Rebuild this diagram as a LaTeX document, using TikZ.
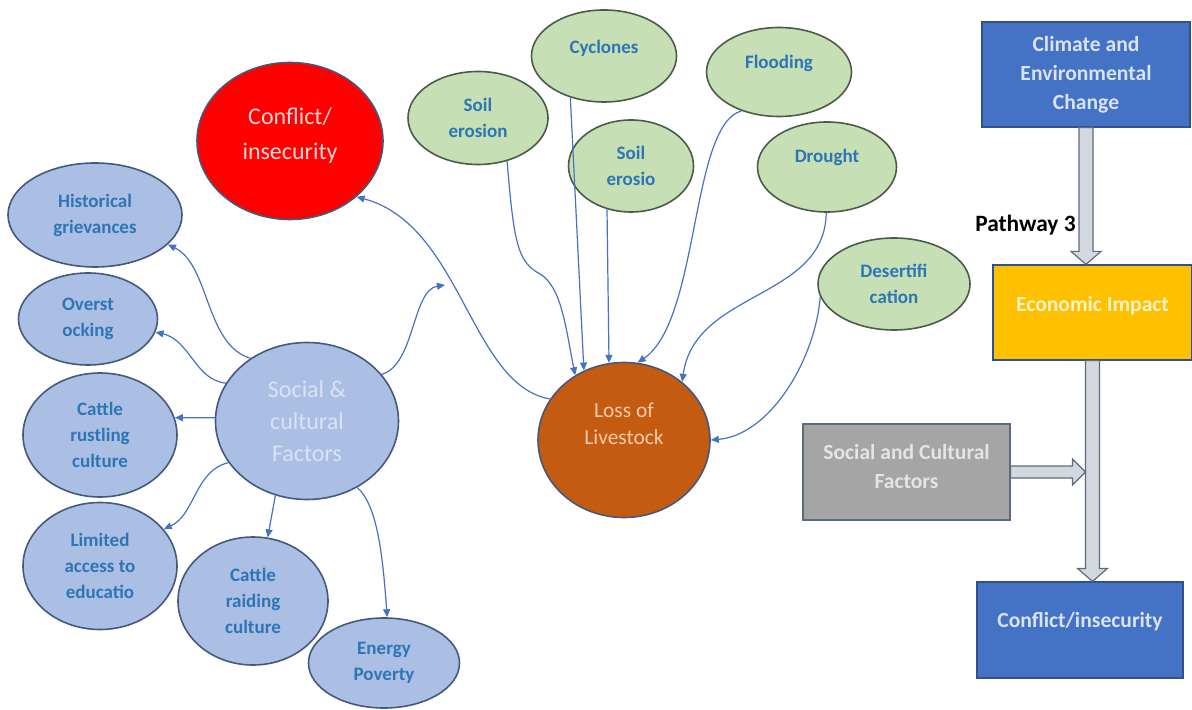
\documentclass[tikz,border=0pt]{standalone}
\usepackage{fontspec}
\setmainfont{Carlito}
\usetikzlibrary{calc, arrows.meta, shapes.geometric}

\definecolor{ellblue}{HTML}{AABFE3}
\definecolor{ellline}{HTML}{44597C}
\definecolor{txtblue}{HTML}{2E75B6}
\definecolor{ellgreen}{HTML}{C6DFB4}
\definecolor{greenline}{HTML}{4B5B4B}
\definecolor{linkblue}{HTML}{4472C4}
\definecolor{lossorange}{HTML}{C55A11}
\definecolor{boxblue}{HTML}{4472C4}
\definecolor{boxline}{HTML}{2F528F}
\definecolor{econyellow}{HTML}{FFC000}
\definecolor{boxgray}{HTML}{A5A5A5}
\definecolor{arrowfill}{HTML}{D3D7DE}
\definecolor{arrowline}{HTML}{5E6A7D}
\definecolor{lighttxt}{HTML}{DAE3F3}
\definecolor{conftxt}{HTML}{FFD6D6}
\definecolor{losstxt}{HTML}{F8CBAD}
\definecolor{econtxt}{HTML}{FFF2CC}
\definecolor{graytxt}{HTML}{E4E4E4}

\begin{document}
\begin{tikzpicture}[x=0.5pt, y=-0.5pt,
    ell/.style={ellipse, inner sep=0pt, align=center, line width=0.8pt},
    socialell/.style={ell, fill=ellblue, draw=ellline, text=txtblue, font=\bfseries\fontsize{9.5}{13}\selectfont},
    envell/.style={ell, fill=ellgreen, draw=greenline, text=txtblue, font=\bfseries\fontsize{9.5}{13}\selectfont},
    bignode/.style={ell, draw=ellline, font=\fontsize{12}{16}\selectfont},
    boxnode/.style={rectangle, inner sep=0pt, align=center, line width=0.6pt, font=\bfseries\fontsize{10.8}{14.5}\selectfont},
    link/.style={draw=linkblue, line width=0.6pt, -{Triangle[length=4pt,width=3.5pt]}},
    blockarr/.style={fill=arrowfill, draw=arrowline, line width=0.6pt}]
    \useasboundingbox (0,0) rectangle (1192,710);

    % conflict
    \node[bignode, fill=red, text=conftxt, minimum width=93pt, minimum height=78.5pt, text depth=7.5pt,
          font=\fontsize{12}{17.5}\selectfont] (conflict) at (290,141) {Conflict/\\insecurity};

    % social and cultural factors
    \node[bignode, fill=ellblue, text=lighttxt, minimum width=91.5pt, minimum height=78.5pt] (social) at (307,421) {Social \&\\cultural\\Factors};
    \node[socialell, minimum width=87pt, minimum height=52pt] (hist) at (95,215) {Historical\\grievances};
    \node[socialell, minimum width=69.5pt, minimum height=46pt] (overst) at (88,319) {Overst\\ocking};
    \node[socialell, minimum width=77pt, minimum height=62pt] (rustl) at (100,435) {Cattle\\rustling\\culture};
    \node[socialell, minimum width=77pt, minimum height=63.5pt] (educ) at (100,566) {Limited\\access to\\educatio};
    \node[socialell, minimum width=75pt, minimum height=64pt] (raid) at (253,601) {Cattle\\raiding\\culture};
    \node[socialell, minimum width=75.5pt, minimum height=45pt] (energy) at (384,663) {Energy\\Poverty};

    % environmental factors
    \node[envell, minimum width=70pt, minimum height=46.5pt] (soila) at (478,118) {Soil\\erosion};
    \node[envell, minimum width=72.5pt, minimum height=46pt, text depth=9.5pt] (cycl) at (604,56) {Cyclones};
    \node[envell, minimum width=62.5pt, minimum height=46pt] (soilb) at (631,166) {Soil\\erosio};
    \node[envell, minimum width=72.5pt, minimum height=44.5pt, text depth=10pt] (flood) at (779,72) {Flooding};
    \node[envell, minimum width=69.5pt, minimum height=45pt, text depth=11pt] (drought) at (827,167) {Drought};
    \node[envell, minimum width=76pt, minimum height=46pt] (desert) at (894,284) {Desertifi\\cation};

    % loss of livestock
    \node[bignode, fill=lossorange, text=losstxt, minimum width=86pt, minimum height=77.5pt, text depth=16pt,
          font=\fontsize{10.7}{13.5}\selectfont] (loss) at (624,440) {Loss of\\Livestock};

    % pathway 3
    \node[boxnode, fill=boxblue, draw=boxline, text=lighttxt, minimum width=104pt, minimum height=52.5pt] (climate) at (1086,74.5) {Climate and\\Environmental\\Change};
    \node[boxnode, fill=econyellow, draw=boxline, text=econtxt, minimum width=99.5pt, minimum height=47.5pt, text depth=9pt] (econ) at (1092.5,312.5) {Economic Impact};
    \node[boxnode, fill=boxgray, draw=arrowline, text=graytxt, minimum width=103.5pt, minimum height=48pt, text depth=6pt] (scf) at (906.5,472) {Social and Cultural\\Factors};
    \node[boxnode, fill=boxblue, draw=boxline, text=lighttxt, minimum width=103pt, minimum height=48pt, text depth=10pt] (confbox) at (1080,630) {Conflict/insecurity};
    \node[anchor=east, inner sep=0pt, font=\bfseries\fontsize{11.7}{14}\selectfont] (pathlabel) at (1076,225) {Pathway 3};

    % block arrows
    \coordinate (tipa) at (climate.south |- econ.north);
    \draw[blockarr] ($(climate.south)+(-7,0)$) -- ($(tipa)+(-7,-13)$) -- ($(tipa)+(-15,-13)$) -- (tipa)
        -- ($(tipa)+(15,-13)$) -- ($(tipa)+(7,-13)$) -- ($(climate.south)+(7,0)$) -- cycle;
    \coordinate (tipb) at (econ.south |- confbox.north);
    \draw[blockarr] ($(econ.south)+(-7,0)$) -- ($(tipb)+(-7,-13)$) -- ($(tipb)+(-15,-13)$) -- (tipb)
        -- ($(tipb)+(15,-13)$) -- ($(tipb)+(7,-13)$) -- ($(econ.south)+(7,0)$) -- cycle;
    \coordinate (tipc) at ($(econ.south |- scf.east)+(-7,0)$);
    \draw[blockarr] ($(scf.east)+(0,-6)$) -- ($(tipc)+(-13,-6)$) -- ($(tipc)+(-13,-13)$) -- (tipc)
        -- ($(tipc)+(-13,13)$) -- ($(tipc)+(-13,6)$) -- ($(scf.east)+(0,6)$) -- cycle;

    % links from social factors
    \draw[link] (social.132) .. controls (205,345) and (210,265) .. (hist.-22);
    \draw[link] (social.155) .. controls (195,380) and (190,340) .. (overst.-11);
    \draw[link] (social.178) -- (rustl.13);
    \draw[link] (social.208) .. controls (195,470) and (195,515) .. (educ.30);
    \draw[link] (social.-113) -- (raid.77);
    \draw[link] (social.-53) .. controls (378,505) and (383,560) .. (energy.86);
    \coordinate (sfree) at (445,285);
    \draw[link] (social.32) .. controls (415,365) and (412,290) .. (sfree);

    % links to loss of livestock
    \draw[link] (loss.151) .. controls (470,385) and (462,225) .. (conflict.-40);
    \draw[link] (soila.-56) .. controls (514,245) and (518,262) .. (540,274)
        .. controls (562,287) and (566,330) .. (loss.127);
    \draw[link] (cycl.-129) -- (loss.120);
    \draw[link] (soilb.-119) -- (loss.101);
    \draw[link] (flood.-134) .. controls (690,125) and (700,320) .. (loss.80);
    \draw[link] (drought.-91) .. controls (825,300) and (695,290) .. (loss.45);
    \draw[link] (desert.-170) .. controls (815,360) and (770,435) .. (loss.east);
\end{tikzpicture}
\end{document}
